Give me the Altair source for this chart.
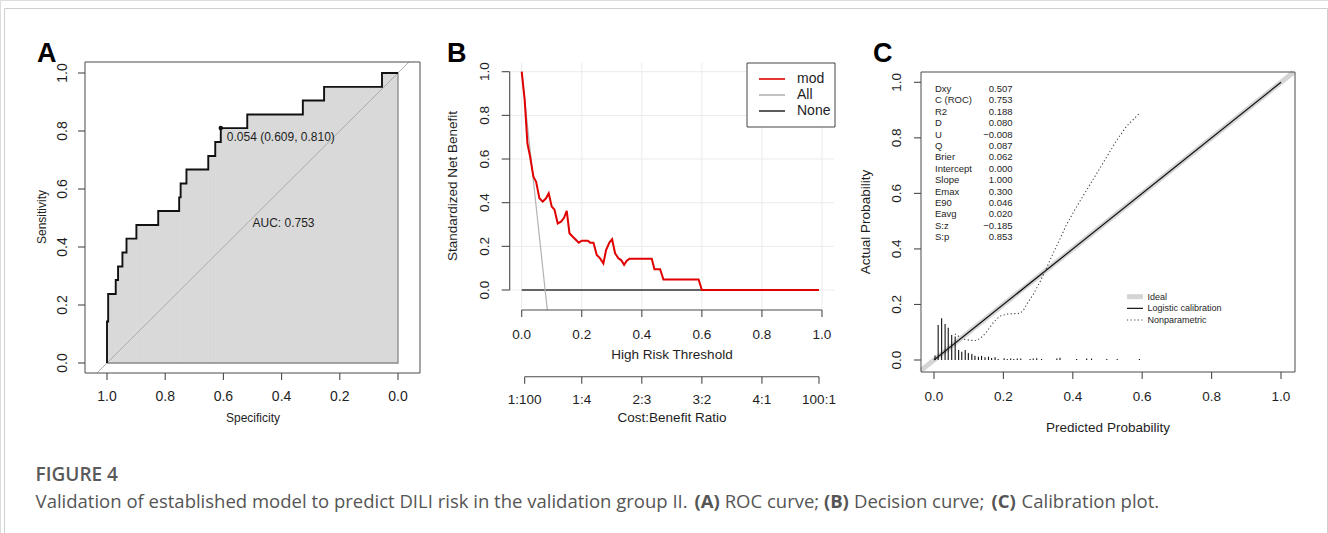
import altair as alt
import pandas as pd

# ---------------- data ----------------
# Panel A - ROC curve (specificity, sensitivity) in drawing order
roc_spec = [1.000, 1.000, 0.996, 0.996, 0.970, 0.970, 0.962, 0.962, 0.947, 0.947,
            0.933, 0.933, 0.899, 0.899, 0.824, 0.824, 0.752, 0.752, 0.747, 0.747,
            0.727, 0.727, 0.652, 0.652, 0.628, 0.628, 0.609, 0.609, 0.518, 0.518,
            0.327, 0.327, 0.254, 0.254, 0.055, 0.055, 0.000]
roc_sens = [0.000, 0.143, 0.143, 0.238, 0.238, 0.286, 0.286, 0.333, 0.333, 0.381,
            0.381, 0.429, 0.429, 0.476, 0.476, 0.524, 0.524, 0.571, 0.571, 0.619,
            0.619, 0.667, 0.667, 0.714, 0.714, 0.762, 0.762, 0.810, 0.810, 0.857,
            0.857, 0.905, 0.905, 0.952, 0.952, 1.000, 1.000]
outline_spec = [1.0, 0.0, 0.0]
outline_sens = [0.0, 0.0, 1.0]
diag_spec = [1.034, -0.038]
diag_sens = [-0.034, 1.038]
cut_spec = [0.609]
cut_sens = [0.810]
cut_label = ["0.054 (0.609, 0.810)"]
auc_label = ["AUC: 0.753"]
a_ticks = [0.0, 0.2, 0.4, 0.6, 0.8, 1.0]
a_tick_labels = ["0.0", "0.2", "0.4", "0.6", "0.8", "1.0"]

# Panel B - decision curve
dca_t = [0.000, 0.010, 0.019, 0.028, 0.039, 0.048, 0.059, 0.070, 0.081, 0.090,
         0.100, 0.109, 0.120, 0.131, 0.141, 0.150, 0.159, 0.170, 0.181, 0.190,
         0.200, 0.220, 0.228, 0.239, 0.250, 0.261, 0.272, 0.281, 0.292, 0.301,
         0.311, 0.322, 0.331, 0.341, 0.350, 0.359, 0.433, 0.442, 0.461, 0.472,
         0.589, 0.600, 0.990]
dca_mod = [1.000, 0.870, 0.672, 0.611, 0.519, 0.496, 0.420, 0.405, 0.420, 0.443,
           0.382, 0.369, 0.305, 0.313, 0.331, 0.363, 0.260, 0.244, 0.229, 0.217,
           0.226, 0.226, 0.217, 0.217, 0.160, 0.145, 0.122, 0.183, 0.217, 0.232,
           0.168, 0.145, 0.137, 0.115, 0.134, 0.143, 0.143, 0.095, 0.095, 0.048,
           0.048, 0.000, 0.000]
all_t = [0.000, 0.078, 0.0855]
all_nb = [1.000, 0.000, -0.092]
none_t = [0.000, 0.990]
none_nb = [0.000, 0.000]
b_ticks = [0.0, 0.2, 0.4, 0.6, 0.8, 1.0]
b_tick_labels = ["0.0", "0.2", "0.4", "0.6", "0.8", "1.0"]
cb_ticks = [0.0099, 0.2, 0.4, 0.6, 0.8, 0.990]
cb_labels = ["1:100", "1:4", "2:3", "3:2", "4:1", "100:1"]
b_legend_labels = ["mod", "All", "None"]
b_legend_colors = ["#e00000", "#b3b3b3", "#333333"]

# Panel C - calibration plot
ideal_x = [-0.0375, 1.036]
logit_x = [0.0, 1.0]
np_x = [0.060, 0.075, 0.089, 0.104, 0.123, 0.140, 0.152, 0.171, 0.190, 0.209,
        0.230, 0.248, 0.258, 0.267, 0.286, 0.305, 0.325, 0.344, 0.363, 0.382,
        0.411, 0.440, 0.469, 0.498, 0.526, 0.555, 0.592]
np_y = [0.094, 0.082, 0.074, 0.071, 0.070, 0.085, 0.102, 0.135, 0.158, 0.165,
        0.167, 0.168, 0.180, 0.200, 0.236, 0.280, 0.334, 0.386, 0.436, 0.488,
        0.552, 0.612, 0.672, 0.732, 0.790, 0.842, 0.888]
hist_x = [0.003, 0.012, 0.022, 0.032, 0.041, 0.051, 0.061, 0.071, 0.080, 0.090,
          0.099, 0.109, 0.118, 0.128, 0.137, 0.147, 0.157, 0.166, 0.176, 0.185,
          0.202, 0.211, 0.221, 0.230, 0.240, 0.250, 0.277, 0.286, 0.296, 0.310,
          0.354, 0.363, 0.411, 0.440, 0.454, 0.498, 0.528, 0.592]
hist_h = [0.016, 0.126, 0.150, 0.130, 0.116, 0.090, 0.085, 0.036, 0.030, 0.036,
          0.025, 0.022, 0.015, 0.012, 0.015, 0.010, 0.012, 0.007, 0.010, 0.004,
          0.006, 0.004, 0.005, 0.004, 0.005, 0.005, 0.004, 0.005, 0.006, 0.004,
          0.005, 0.008, 0.004, 0.005, 0.005, 0.004, 0.004, 0.004]
stat_names = ["Dxy", "C (ROC)", "R2", "D", "U", "Q", "Brier", "Intercept", "Slope",
              "Emax", "E90", "Eavg", "S:z", "S:p"]
stat_vals = ["0.507", "0.753", "0.188", "0.080", "\u22120.008", "0.087", "0.062",
             "0.000", "1.000", "0.300", "0.046", "0.020", "\u22120.185", "0.853"]
c_legend_labels = ["Ideal", "Logistic calibration", "Nonparametric"]
c_ticks = [0.0, 0.2, 0.4, 0.6, 0.8, 1.0]
c_tick_labels = ["0.0", "0.2", "0.4", "0.6", "0.8", "1.0"]

caption_head = "FIGURE 4"
caption_parts = ["Validation of established model to predict DILI risk in the validation group II.",
                 "(A)", "ROC curve;", "(B)", "Decision curve;", "(C)", "Calibration plot."]
caption_bold = [False, True, False, True, False, True, False]
caption_x = [35.6, 694.5, 724.7, 823.9, 854.0, 991.5, 1021.6]

# ---------------- styling helpers ----------------
FONT = "Liberation Sans"
INK = "#1e1e1e"
AXC = "#4a4a4a"


def sc(dom, rng):
    return alt.Scale(domain=dom, range=rng, nice=False, zero=False)


AXs = sc([0, 1], [398, 107])
AYs = sc([0, 1], [363, 73])
BXs = sc([0, 1], [521.7, 822])
BYs = sc([0, 1], [290, 71.7])
CXs = sc([0, 1], [934, 1281])
CYs = sc([0, 1], [360, 82.3])


def X(f, s):
    return alt.X(f"{f}:Q", scale=s, axis=None)


def Y(f, s):
    return alt.Y(f"{f}:Q", scale=s, axis=None)


def text(t, x, y, size, angle=0, weight="normal", align="center", color=INK,
         font=FONT, baseline="middle"):
    kw = dict(font=font, fontSize=size, fontWeight=weight, align=align,
              baseline=baseline, color=color)
    if angle:
        kw["angle"] = angle
    return alt.Chart(pd.DataFrame({"t": [t]})).mark_text(**kw).encode(
        x=alt.value(x), y=alt.value(y), text="t:N")


def box(x1, y1, x2, y2, stroke=AXC, fill=None, sw=1.0):
    kw = dict(stroke=stroke, strokeWidth=sw)
    if fill is None:
        kw["fillOpacity"] = 0
        kw["fill"] = "white"
    else:
        kw["fill"] = fill
    return alt.Chart(pd.DataFrame({"a": [0]})).mark_rect(**kw).encode(
        x=alt.value(x1), x2=alt.value(x2), y=alt.value(y1), y2=alt.value(y2))


def xaxis(ticks, labels, s, y0, ln, ly, size, line=False):
    df = pd.DataFrame({"v": ticks, "l": labels})
    out = []
    if line:
        out.append(alt.Chart(pd.DataFrame({"a": [min(ticks)], "b": [max(ticks)]}))
                   .mark_rule(color=AXC, strokeWidth=1.1)
                   .encode(x=X("a", s), x2="b:Q", y=alt.value(y0)))
    out.append(alt.Chart(df).mark_rule(color=AXC, strokeWidth=1.1).encode(
        x=X("v", s), y=alt.value(y0), y2=alt.value(y0 + ln)))
    out.append(alt.Chart(df).mark_text(font=FONT, fontSize=size, color=INK,
                                       baseline="middle").encode(
        x=X("v", s), y=alt.value(ly), text="l:N"))
    return out


def yaxis(ticks, labels, s, x0, ln, lx, size, line=False):
    df = pd.DataFrame({"v": ticks, "l": labels})
    out = []
    if line:
        out.append(alt.Chart(pd.DataFrame({"a": [min(ticks)], "b": [max(ticks)]}))
                   .mark_rule(color=AXC, strokeWidth=1.1)
                   .encode(y=Y("a", s), y2="b:Q", x=alt.value(x0)))
    out.append(alt.Chart(df).mark_rule(color=AXC, strokeWidth=1.1).encode(
        y=Y("v", s), x=alt.value(x0 - ln), x2=alt.value(x0)))
    out.append(alt.Chart(df).mark_text(font=FONT, fontSize=size, color=INK,
                                       angle=270, baseline="middle").encode(
        y=Y("v", s), x=alt.value(lx), text="l:N"))
    return out


layers = []

# ---------------- Panel A ----------------
seg_l, seg_r, seg_h = [], [], []
for i in range(len(roc_spec) - 1):
    if roc_sens[i] == roc_sens[i + 1] and roc_spec[i] != roc_spec[i + 1]:
        seg_l.append(roc_spec[i])
        seg_r.append(roc_spec[i + 1])
        seg_h.append(roc_sens[i])
fill_df = pd.DataFrame({"l": seg_l, "r": seg_r, "h": seg_h, "z": 0.0})
layers.append(alt.Chart(fill_df).mark_rect(fill="#d9d9d9", stroke="#d9d9d9",
                                           strokeWidth=0.6).encode(
    x=X("l", AXs), x2="r:Q", y=Y("h", AYs), y2="z:Q"))
layers.append(alt.Chart(pd.DataFrame({"spec": outline_spec, "sens": outline_sens,
                                      "i": [0, 1, 2]}))
              .mark_line(color="#8a8a8a", strokeWidth=1.3)
              .encode(x=X("spec", AXs), y=Y("sens", AYs), order="i:Q"))
layers.append(alt.Chart(pd.DataFrame({"spec": diag_spec, "sens": diag_sens}))
              .mark_line(color="#a6a6a6", strokeWidth=0.9)
              .encode(x=X("spec", AXs), y=Y("sens", AYs)))
roc_df = pd.DataFrame({"spec": roc_spec, "sens": roc_sens,
                       "i": list(range(len(roc_spec)))})
layers.append(alt.Chart(roc_df).mark_line(color="#111111", strokeWidth=1.9).encode(
    x=X("spec", AXs), y=Y("sens", AYs), order="i:Q"))
cut_df = pd.DataFrame({"spec": cut_spec, "sens": cut_sens, "l": cut_label})
layers.append(alt.Chart(cut_df).mark_circle(color="#111111", size=20, opacity=1)
              .encode(x=X("spec", AXs), y=Y("sens", AYs)))
layers.append(alt.Chart(cut_df).mark_text(font=FONT, fontSize=12, color=INK,
                                          align="left", baseline="middle",
                                          dx=6, dy=9)
              .encode(x=X("spec", AXs), y=Y("sens", AYs), text="l:N"))
layers.append(alt.Chart(pd.DataFrame({"spec": [0.5], "sens": [0.483], "l": auc_label}))
              .mark_text(font=FONT, fontSize=12, color=INK, align="left",
                         baseline="middle")
              .encode(x=X("spec", AXs), y=Y("sens", AYs), text="l:N"))
layers.append(box(85, 62, 420, 373))
layers += xaxis(a_ticks, a_tick_labels, AXs, 373, 7, 397, 14)
layers += yaxis(a_ticks, a_tick_labels, AYs, 85, 7, 63, 14)
layers.append(text("Specificity", 253, 418, 12))
layers.append(text("Sensitivity", 42, 217, 12, angle=270))
layers.append(text("A", 37, 62, 27, weight="bold", align="left",
                   baseline="alphabetic", color="#000000"))

# ---------------- Panel B ----------------
grid_df = pd.DataFrame({"v": b_ticks})
layers.append(alt.Chart(grid_df).mark_rule(color="#ebebeb", strokeWidth=1).encode(
    x=X("v", BXs), y=alt.value(62.6), y2=alt.value(310)))
layers.append(alt.Chart(grid_df).mark_rule(color="#ebebeb", strokeWidth=1).encode(
    y=Y("v", BYs), x=alt.value(509.7), x2=alt.value(834)))
layers.append(alt.Chart(pd.DataFrame({"t": none_t, "nb": none_nb}))
              .mark_line(color="#333333", strokeWidth=1.3)
              .encode(x=X("t", BXs), y=Y("nb", BYs)))
layers.append(alt.Chart(pd.DataFrame({"t": all_t, "nb": all_nb}))
              .mark_line(color="#b3b3b3", strokeWidth=1.2)
              .encode(x=X("t", BXs), y=Y("nb", BYs)))
layers.append(alt.Chart(pd.DataFrame({"t": dca_t, "nb": dca_mod}))
              .mark_line(color="#e00000", strokeWidth=2)
              .encode(x=X("t", BXs), y=Y("nb", BYs)))
layers += xaxis(b_ticks, b_tick_labels, BXs, 310, 7, 335, 13.5, line=True)
layers += xaxis(cb_ticks, cb_labels, BXs, 376.7, 7, 400, 13.5, line=True)
layers += yaxis(b_ticks, b_tick_labels, BYs, 509.7, 8, 485, 13.5, line=True)
layers.append(text("High Risk Threshold", 672, 355, 13.5))
layers.append(text("Cost:Benefit Ratio", 672, 418, 13.5))
layers.append(text("Standardized Net Benefit", 453, 186, 13.5, angle=270))
layers.append(text("B", 447, 62, 27, weight="bold", align="left",
                   baseline="alphabetic", color="#000000"))
# legend
layers.append(box(747, 63, 835, 127, stroke="#444444", fill="white"))
leg_b = pd.DataFrame({"k": [0, 1, 2], "l": b_legend_labels, "c": b_legend_colors})
LBs = sc([0, 2], [79, 111])
layers.append(alt.Chart(leg_b).mark_rule(strokeWidth=1.6).encode(
    y=Y("k", LBs), x=alt.value(759), x2=alt.value(785),
    color=alt.Color("c:N", scale=None)))
layers.append(alt.Chart(leg_b).mark_text(font=FONT, fontSize=14, color=INK,
                                         align="left", baseline="middle").encode(
    y=Y("k", LBs), x=alt.value(797), text="l:N"))

# ---------------- Panel C ----------------
layers.append(alt.Chart(pd.DataFrame({"x": ideal_x, "y": ideal_x}))
              .mark_line(color="#d4d4d4", strokeWidth=5)
              .encode(x=X("x", CXs), y=Y("y", CYs)))
layers.append(alt.Chart(pd.DataFrame({"x": logit_x, "y": logit_x}))
              .mark_line(color="#111111", strokeWidth=1.2)
              .encode(x=X("x", CXs), y=Y("y", CYs)))
layers.append(alt.Chart(pd.DataFrame({"x": np_x, "y": np_y}))
              .mark_line(color="#444444", strokeWidth=1.1, strokeDash=[1.2, 2.4])
              .encode(x=X("x", CXs), y=Y("y", CYs)))
layers.append(alt.Chart(pd.DataFrame({"x": hist_x, "h": hist_h, "z": 0.0}))
              .mark_rule(color="#111111", strokeWidth=1.1)
              .encode(x=X("x", CXs), y=Y("h", CYs), y2="z:Q"))
stat_df = pd.DataFrame({"r": list(range(len(stat_names))), "n": stat_names, "v": stat_vals})
SRs = sc([0, 13], [89, 237.3])
layers.append(alt.Chart(stat_df).mark_text(font=FONT, fontSize=9.5, color=INK,
                                           align="left", baseline="middle").encode(
    y=Y("r", SRs), x=alt.value(935), text="n:N"))
layers.append(alt.Chart(stat_df).mark_text(font=FONT, fontSize=9.5, color=INK,
                                           align="right", baseline="middle").encode(
    y=Y("r", SRs), x=alt.value(1012.5), text="v:N"))
# legend C
LCs = sc([0, 2], [296.7, 320])
leg_c = pd.DataFrame({"k": [0, 1, 2], "l": c_legend_labels})
layers.append(alt.Chart(leg_c[leg_c.k == 0]).mark_rule(color="#d4d4d4", strokeWidth=5)
              .encode(y=Y("k", LCs), x=alt.value(1127), x2=alt.value(1143)))
layers.append(alt.Chart(leg_c[leg_c.k == 1]).mark_rule(color="#111111", strokeWidth=1.2)
              .encode(y=Y("k", LCs), x=alt.value(1127), x2=alt.value(1143)))
layers.append(alt.Chart(leg_c[leg_c.k == 2]).mark_rule(color="#444444", strokeWidth=1.1,
                                                     strokeDash=[1.2, 2.4])
              .encode(y=Y("k", LCs), x=alt.value(1127), x2=alt.value(1143)))
layers.append(alt.Chart(leg_c).mark_text(font=FONT, fontSize=9, color=INK,
                                         align="left", baseline="middle").encode(
    y=Y("k", LCs), x=alt.value(1147.5), text="l:N"))
layers.append(box(921, 72, 1295, 372))
layers += xaxis(c_ticks, c_tick_labels, CXs, 372, 7, 397, 13.5)
layers += yaxis(c_ticks, c_tick_labels, CYs, 921, 7, 897, 13.5)
layers.append(text("Predicted Probability", 1108, 428, 13.5))
layers.append(text("Actual Probability", 866, 222, 13.5, angle=270))
layers.append(text("C", 873, 62, 27, weight="bold", align="left",
                   baseline="alphabetic", color="#000000"))

# ---------------- caption & frame ----------------
layers.append(box(4.5, 8.5, 1327.5, 560, stroke="#cfcfcf"))
layers.append(text(caption_head, 35.6, 475, 19, align="left", color="#5a5a5a",
                   font="Open Sans", weight=600))
for part, bold, px in zip(caption_parts, caption_bold, caption_x):
    layers.append(text(part, px, 502, 18.5, align="left", color="#555555",
                       font="Open Sans", weight="bold" if bold else "normal"))

chart = (alt.layer(*layers)
         .resolve_scale(x="independent", y="independent")
         .properties(width=1328, height=533, padding=0,
                     autosize=alt.AutoSizeParams(type="none"))
         .configure_view(stroke=None)
         .configure(background="white"))

chart.save("out.html", embed_options={"renderer": "svg", "actions": False})
